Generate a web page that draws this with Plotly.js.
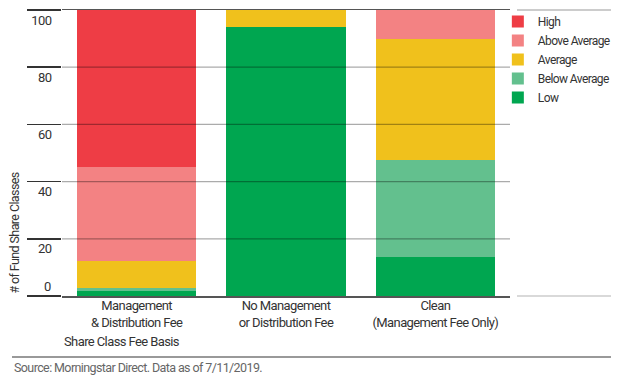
<!DOCTYPE html>
<html>
<head>
<meta charset="utf-8">
<script src="https://cdn.plot.ly/plotly-3.0.1.min.js"></script>
<style>
html,body{margin:0;padding:0;background:#fff;}
#chart{width:635px;height:382px;}
text{letter-spacing:-0.6px;}
</style>
</head>
<body>
<div id="chart"></div>
<script>
var categories = ["Management<br>& Distribution Fee", "No Management<br>or Distribution Fee", "Clean<br>(Management Fee Only)"];
var seriesNames = ["Low", "Below Average", "Average", "Above Average", "High"];
var low = [1.9, 94.2, 13.6];
var belowAverage = [0.9, 0, 34.1];
var average = [9.5, 5.8, 42.2];
var aboveAverage = [32.8, 0, 10.1];
var high = [54.9, 0, 0];
var yTicks = [0, 20, 40, 60, 80, 100];
var colors = ["#00A650", "#63C08E", "#F0C11C", "#F38283", "#EE3D45"];

var FONT = "Roboto, 'Liberation Sans', sans-serif";
var seriesValues = [low, belowAverage, average, aboveAverage, high];
var traces = seriesValues.map(function (vals, i) {
  return {
    type: "bar",
    name: seriesNames[i],
    x: categories,
    y: vals,
    marker: {color: colors[i], line: {width: 0}},
    hoverinfo: "none"
  };
});

var shapes = yTicks.slice(1, -1).map(function (v) {
  return {type: "line", xref: "paper", yref: "y", x0: 0, x1: 1, y0: v, y1: v,
          layer: "above", line: {color: "rgba(0,0,0,0.33)", width: 1.2}};
});
shapes.push({type: "line", xref: "paper", yref: "paper", x0: 1.0156, x1: 1.2254, y0: 1, y1: 1,
             line: {color: "#cccccc", width: 2}});
shapes.push({type: "line", xref: "paper", yref: "paper", x0: 1.0156, x1: 1.2254, y0: 0, y1: 0,
             line: {color: "#cccccc", width: 1.5}});
shapes.push({type: "line", xref: "paper", yref: "paper", x0: -0.1116, x1: 1.2254, y0: -0.2133, y1: -0.2133,
             line: {color: "#777777", width: 1.5}});

var layout = {
  width: 635, height: 382,
  margin: {l: 62, r: 125, t: 10, b: 86, autoexpand: false},
  paper_bgcolor: "#ffffff", plot_bgcolor: "#ffffff",
  barmode: "stack", bargap: 0.2,
  font: {family: FONT, size: 13, color: "#333333"},
  showlegend: true,
  legend: {xref: "container", yref: "container", x: 0.784, xanchor: "left", y: 0.9817, yanchor: "top",
           traceorder: "reversed",
           font: {family: FONT, size: 12, color: "#333333"}, bgcolor: "rgba(0,0,0,0)", borderwidth: 0},
  xaxis: {type: "category", showgrid: false, zeroline: false, showline: true, mirror: true,
          linecolor: "#555555", linewidth: 1.5, ticks: "", ticklabelstandoff: -3,
          tickfont: {family: FONT, size: 13, color: "#333333"}},
  yaxis: {range: [0, 100], tickvals: yTicks,
          ticktext: yTicks.map(function (v, i) { return i === 0 ? "" : String(v); }),
          showgrid: false, zeroline: false,
          showline: false, ticks: "outside", ticklen: 34, tickwidth: 1.5, tickcolor: "#333333",
          ticklabeloverflow: "allow",
          ticklabelstandoff: -27, ticklabelshift: 10, tickfont: {family: FONT, size: 13, color: "#333333"}},
  shapes: shapes,
  annotations: [
    {text: String(yTicks[0]), xref: "paper", yref: "y", x: -0.02, y: yTicks[0], xanchor: "right", yanchor: "bottom",
     yshift: 0, showarrow: false, font: {family: FONT, size: 13, color: "#333333"}},
    {text: "# of Fund Share Classes", xref: "paper", yref: "paper", x: -0.107, y: 0, xanchor: "center", yanchor: "bottom",
     textangle: -90, showarrow: false, font: {family: FONT, size: 12.5, color: "#333333"}},
    {text: "Share Class Fee Basis", xref: "paper", yref: "paper", x: 0, y: -0.16, xanchor: "left", yanchor: "middle",
     showarrow: false, font: {family: FONT, size: 13, color: "#333333"}},
    {text: "Source: Morningstar Direct. Data as of 7/11/2019.", xref: "paper", yref: "paper", x: -0.1116, y: -0.2517,
     xanchor: "left", yanchor: "middle", showarrow: false, font: {family: FONT, size: 12.5, color: "#666666"}}
  ]
};

Plotly.newPlot("chart", traces, layout, {displayModeBar: false, staticPlot: true});
</script>
</body>
</html>
